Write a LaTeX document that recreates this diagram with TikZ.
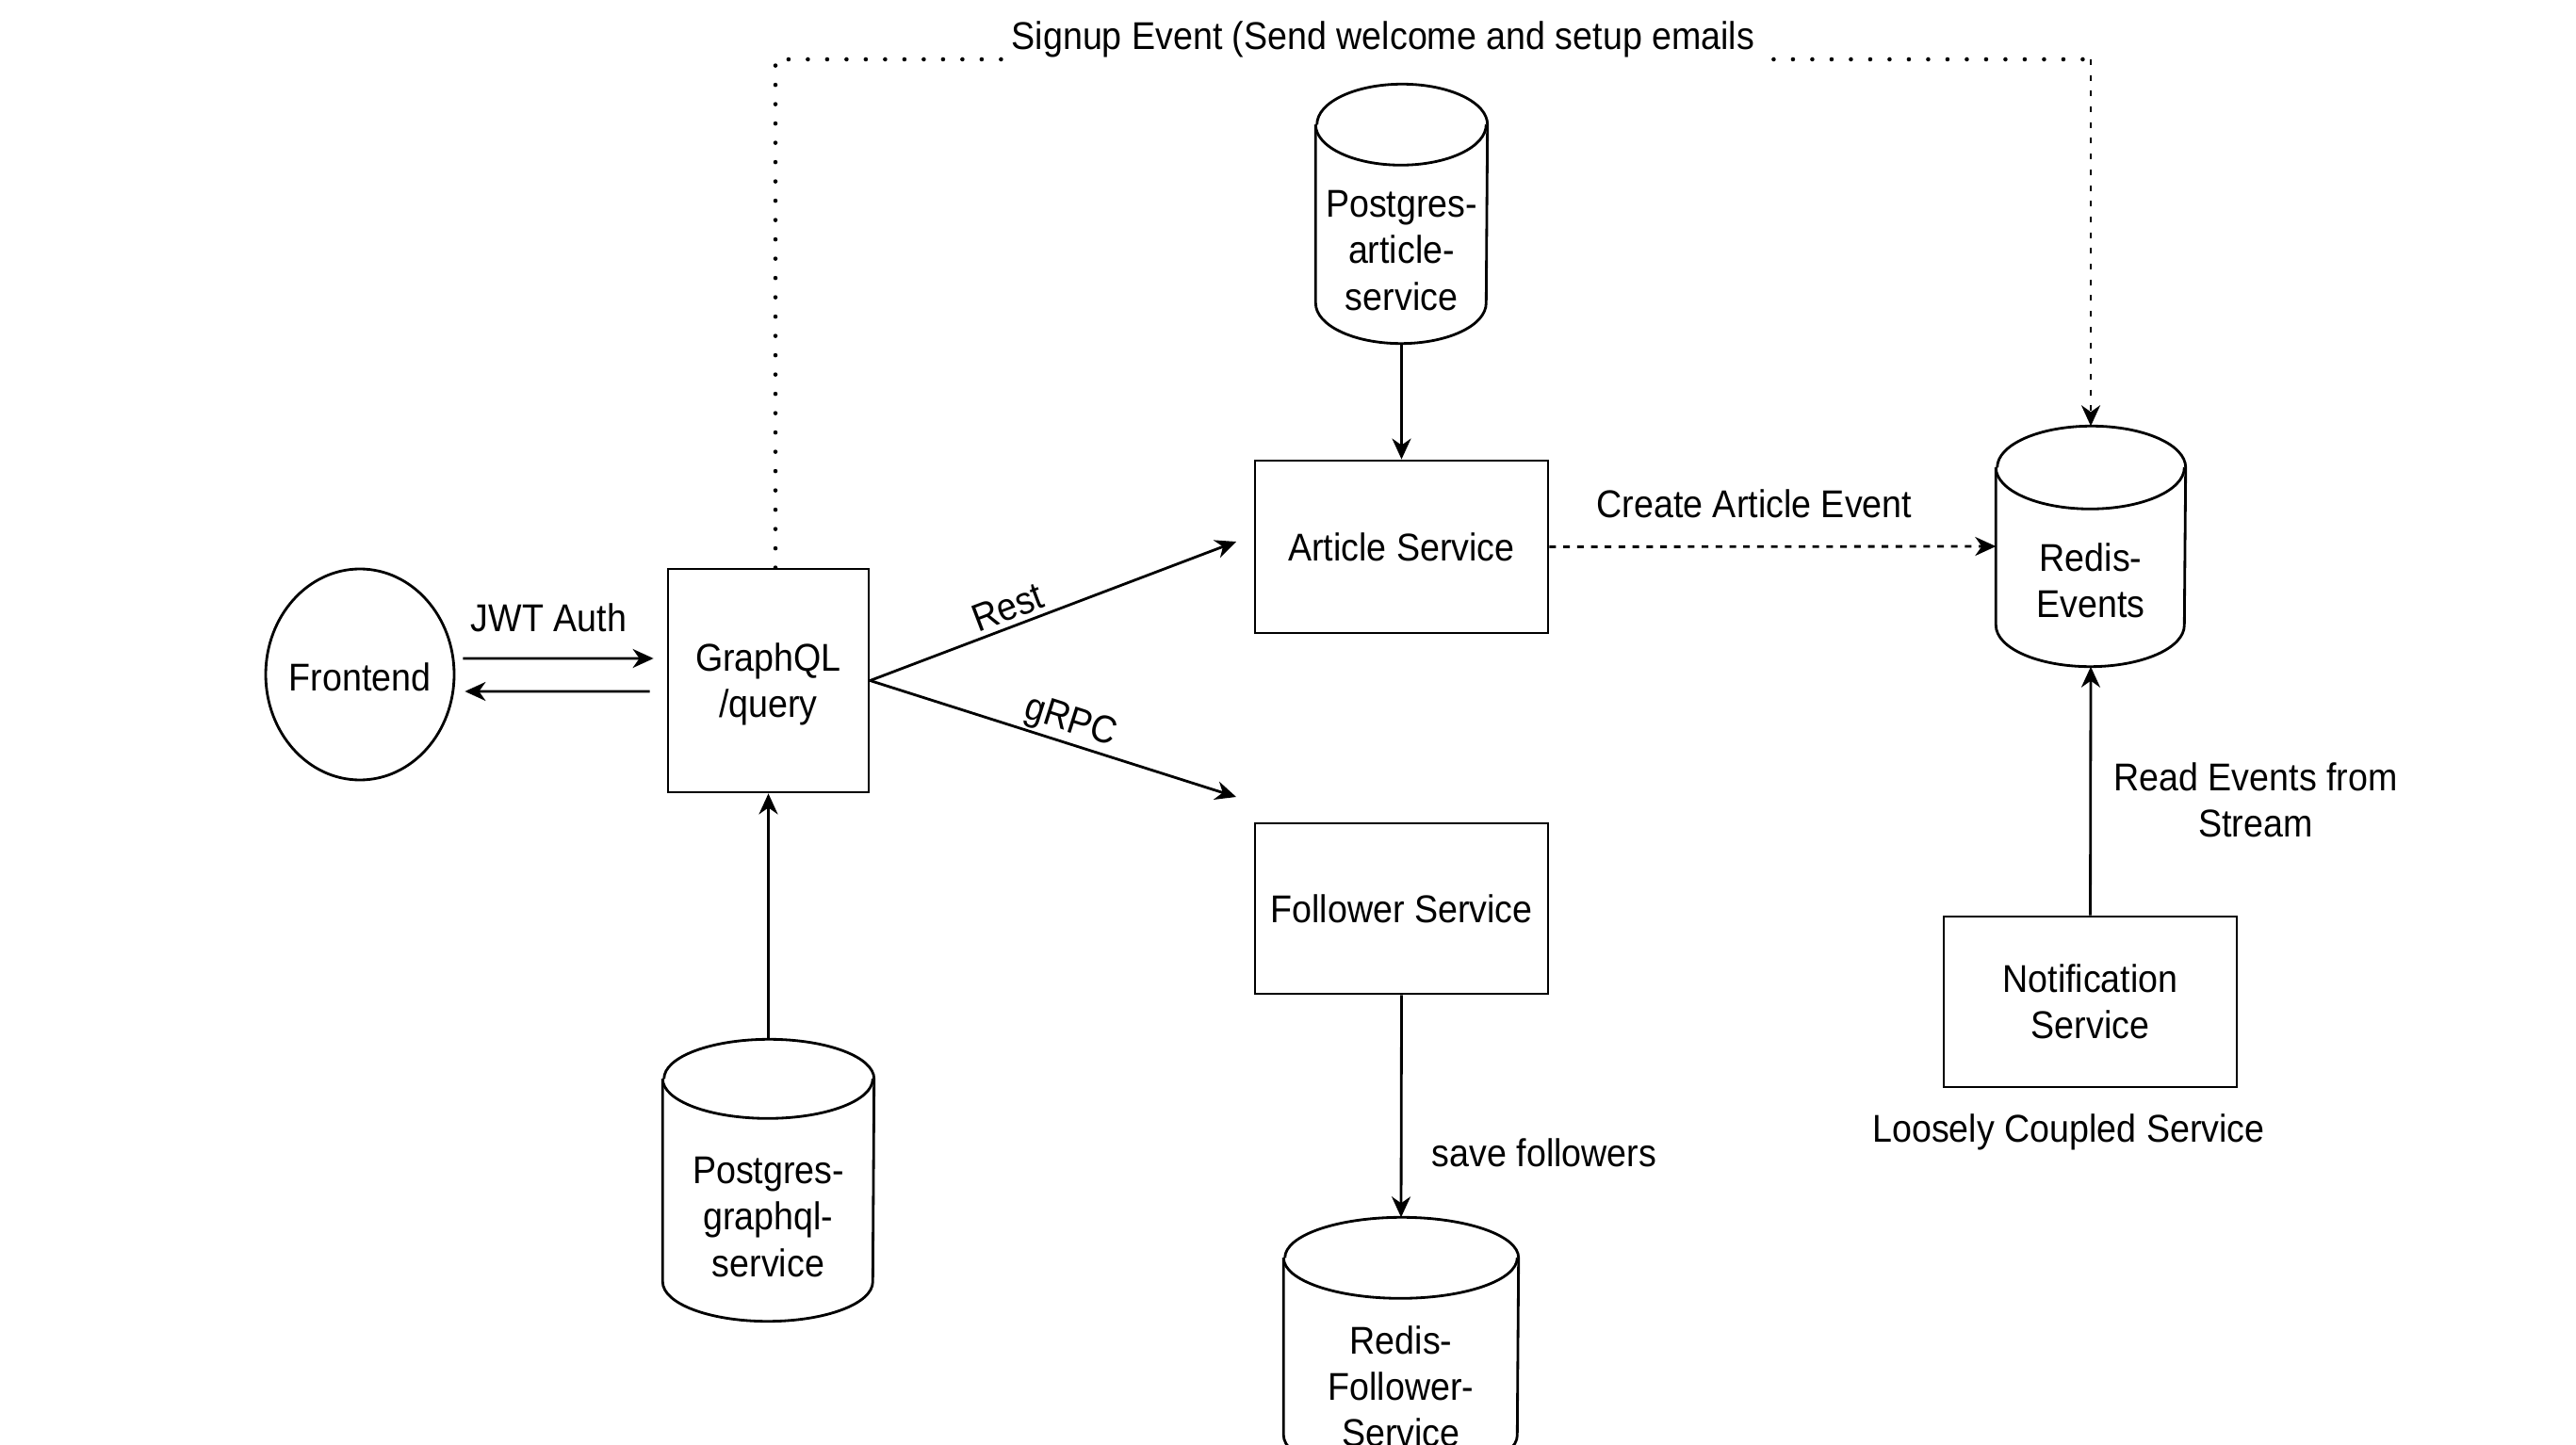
\documentclass[tikz,border=0pt]{standalone}
\usepackage{fontspec}
\setmainfont{Liberation Sans}[FakeStretch=0.915]
\usetikzlibrary{arrows.meta,shapes.geometric}
\tikzset{
  base/.style={font=\fontsize{11.7pt}{14pt}\selectfont, text=black},
  box/.style={base, draw, line width=0.8pt, rectangle, inner sep=0pt, align=center},
  ell/.style={draw, line width=0.8pt, ellipse, inner sep=0pt},
  dbbox/.style={rectangle, inner sep=0pt},
  txt/.style={base, align=center, inner sep=0pt},
  arr/.style={line width=0.8pt, -{Stealth[length=0.22cm,width=0.2cm,inset=0.07cm]}},
  sigdots/.style={line width=1.3pt, line cap=round, dash pattern=on 0pt off 0.205cm},
  sigdash/.style={line width=0.85pt, dash pattern=on 0.06cm off 0.107cm},
  cadash/.style={line width=0.85pt, dash pattern=on 0.07cm off 0.077cm},
  dbline/.style={line width=0.8pt},
}
\newcommand\dbcyl[3]{%
  \draw[dbline] ([yshift=-#3]#1.north west) -- ([yshift=#3]#1.south west)
    arc[start angle=180,end angle=360,x radius=#2,y radius=#3]
    -- ([yshift=-#3]#1.north east)
    arc[start angle=0,end angle=180,x radius=#2,y radius=#3];
  \draw[dbline] ([yshift=-#3]#1.north west) arc[start angle=180,end angle=360,x radius=#2,y radius=#3];
}
\begin{document}
\begin{tikzpicture}
\useasboundingbox (0,0) rectangle (27.34,-15.34);
\clip (0,0) rectangle (27.34,-15.34);

% main nodes
\node[ell, minimum width=2.0cm, minimum height=2.24cm] (fe) at (3.82,-7.16) {};
\node[txt] (fet) at (3.82,-7.19) {Frontend};
\node[box, minimum width=2.13cm, minimum height=2.37cm] (gq) at (8.155,-7.225) {\rule{0pt}{0.9em}GraphQL\\/query};
\node[box, minimum width=3.11cm, minimum height=1.83cm] (as) at (14.875,-5.805) {Article Service};
\node[box, minimum width=3.11cm, minimum height=1.81cm] (fs) at (14.875,-9.645) {Follower Service};
\node[box, minimum width=3.11cm, minimum height=1.81cm] (ns) at (22.185,-10.635) {Notification\\Service};

% databases
\node[dbbox, minimum width=1.81cm, minimum height=2.74cm] (pa) at (14.875,-2.27) {};
\dbcyl{pa}{0.905cm}{0.43cm}
\node[txt] (pat) at (14.875,-2.66) {Postgres-\\article-\\service};

\node[dbbox, minimum width=2.0cm, minimum height=2.54cm] (re) at (22.19,-5.80) {};
\dbcyl{re}{1.0cm}{0.44cm}
\node[txt] (ret) at (22.19,-6.165) {Redis-\\Events};

\node[dbbox, minimum width=2.23cm, minimum height=2.98cm] (pg) at (8.155,-12.53) {};
\dbcyl{pg}{1.115cm}{0.42cm}
\node[txt] (pgt) at (8.155,-12.92) {Postgres-\\graphql-\\service};

\node[dbbox, minimum width=2.48cm, minimum height=2.73cm] (rf) at (14.87,-14.295) {};
\dbcyl{rf}{1.24cm}{0.43cm}
\node[txt] (rft) at (14.87,-14.72) {Redis-\\Follower-\\Service};

% connectors
\draw[arr] ([shift={(0.08,0.17)}]fe.east) -- ([shift={(-0.14,0.235)}]gq.west);
\draw[arr] ([shift={(-0.18,-0.115)}]gq.west) -- ([shift={(0.10,-0.18)}]fe.east);
\node[txt] (jwt) at (5.825,-6.555) {JWT Auth};

\coordinate (restend) at (13.12,-5.75);
\coordinate (grpcend) at (13.12,-8.46);
\draw[arr] (gq.east) -- (restend) node[base, sloped, above, inner sep=1.5pt, pos=0.395] (restl) {Rest};
\draw[arr] (gq.east) -- (grpcend) node[base, sloped, above, inner sep=0.5pt, pos=0.53] (grpcl) {gRPC};

\draw[arr] (pa.south) -- (as.north);
\draw[arr] (pg.north) -- (gq.south);
\draw[arr] (fs.south) -- (rf.north);
\node[txt] (savel) at (16.39,-12.24) {save followers};
\draw[arr] (ns.north) -- (re.south);
\node[txt] (readl) at (23.94,-8.495) {Read Events from\\Stream};
\node[txt] (loosel) at (21.955,-12.02) {Loosely Coupled Service};

\draw[cadash, arr] (as.east) -- (re.west) node[txt, pos=0.459, yshift=0.455cm] (cal) {Create Article Event};

\coordinate (sigcorner) at (22.19,-0.63);
\draw[sigdots] ([xshift=0.075cm]gq.north) |- (sigcorner);
\draw[sigdash, arr] (sigcorner) -- (re.north);
\node[base, fill=white, inner xsep=1pt, inner ysep=0.05cm] (sigl) at (14.68,-0.42) {Signup Event (Send welcome and setup emails};
\end{tikzpicture}
\end{document}
